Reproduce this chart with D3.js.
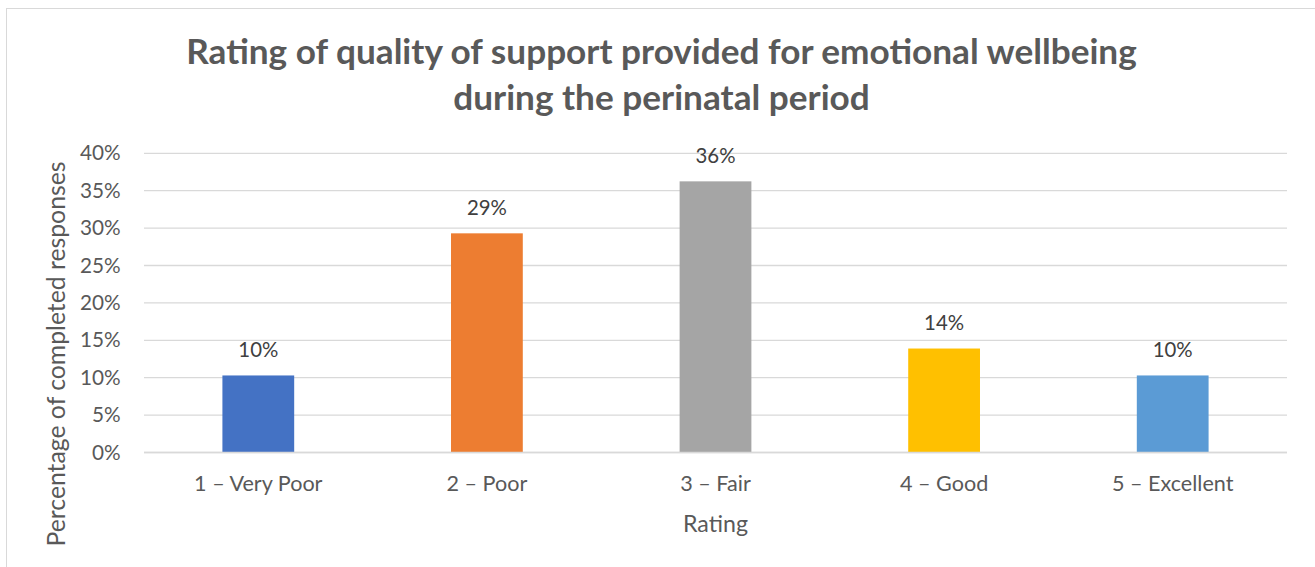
<!DOCTYPE html>
<html><head><meta charset="utf-8">
<script src="https://cdn.jsdelivr.net/npm/d3@7/dist/d3.min.js"></script>
<style>body{margin:0;background:#fff;} svg{display:block;}</style>
</head><body>
<svg id="c" width="1315" height="567"></svg>
<script>
const categories = ["1 – Very Poor", "2 – Poor", "3 – Fair", "4 – Good", "5 – Excellent"];
const values = [0.103, 0.293, 0.3625, 0.139, 0.103];
const labels = ["10%", "29%", "36%", "14%", "10%"];
const colors = ["#4472C4", "#ED7D31", "#A5A5A5", "#FFC000", "#5B9BD5"];
const yTicks = [0, 0.05, 0.10, 0.15, 0.20, 0.25, 0.30, 0.35, 0.40];
const titleLines = ["Rating of quality of support provided for emotional wellbeing", "during the perinatal period"];
const xTitle = "Rating";
const yTitle = "Percentage of completed responses";

(function () {
const svg = d3.select("#c");
const font = "Lato, 'Open Sans', sans-serif";
const pL = 144, pR = 1287, pT = 153.3, pB = 452.5;

function fit(str, weight, target) {
  const t = svg.append("text").attr("font-family", font).attr("font-weight", weight)
    .attr("font-size", 20).text(str);
  const w = t.node().getComputedTextLength();
  t.remove();
  return 20 * target / w;
}

svg.append("rect").attr("x", 6.5).attr("y", 8.5).attr("width", 1330).attr("height", 600)
  .attr("fill", "#fff").attr("stroke", "#d9d9d9").attr("stroke-width", 1);

const x = d3.scaleBand().domain(categories).range([pL, pR]).paddingInner(0.686).paddingOuter(0.343);
const y = d3.scaleLinear().domain([0, 0.40]).range([pB, pT]);

svg.append("g").selectAll("line").data(yTicks).join("line")
  .attr("x1", pL).attr("x2", pR)
  .attr("y1", d => y(d)).attr("y2", d => y(d))
  .attr("stroke", "#d9d9d9").attr("stroke-width", 1.3);

const tickFs = fit("40%", "normal", 40.7);
const yAxis = d3.axisLeft(y).tickValues(yTicks).tickFormat(d3.format(".0%")).tickSize(0).tickPadding(23.3);
const gy = svg.append("g").attr("transform", `translate(${pL},0)`).call(yAxis);
gy.select(".domain").remove();
gy.selectAll("text").attr("font-family", font).attr("font-size", tickFs).attr("fill", "#595959");

svg.append("g").selectAll("rect").data(values).join("rect")
  .attr("x", (d, i) => x(categories[i])).attr("width", x.bandwidth())
  .attr("y", d => y(d)).attr("height", d => y(0) - y(d))
  .attr("fill", (d, i) => colors[i]);

const lblFs = fit("10%", "normal", 40);
svg.append("g").selectAll("text").data(values).join("text")
  .attr("x", (d, i) => x(categories[i]) + x.bandwidth() / 2)
  .attr("y", d => y(d) - 18.3)
  .attr("text-anchor", "middle").attr("font-family", font).attr("font-size", lblFs)
  .attr("fill", "#404040").text((d, i) => labels[i]);

const xFs = fit(categories[0], "normal", 128.4);
const gx = svg.append("g").attr("transform", `translate(0,${pB})`);
gx.append("line").attr("x1", pL).attr("x2", pR).attr("y1", 0).attr("y2", 0)
  .attr("stroke", "#d9d9d9").attr("stroke-width", 1.3);
gx.selectAll("text.xl").data(categories).join("text").attr("class", "xl")
  .attr("x", d => x(d) + x.bandwidth() / 2).attr("y", 491 - pB)
  .attr("text-anchor", "middle").attr("font-family", font).attr("font-size", xFs)
  .attr("fill", "#595959").text(d => d);

const xtFs = fit(xTitle, "normal", 65);
svg.append("text").attr("x", 715.5).attr("y", 531.5).attr("text-anchor", "middle")
  .attr("font-family", font).attr("font-size", xtFs).attr("fill", "#595959").text(xTitle);
const ytFs = fit(yTitle, "normal", 385);
svg.append("text").attr("transform", "translate(65,354) rotate(-90)").attr("text-anchor", "middle")
  .attr("font-family", font).attr("font-size", ytFs).attr("fill", "#595959").text(yTitle);

const tFs = fit(titleLines[0], "bold", 951);
svg.append("text").attr("x", 661.5).attr("y", 64).attr("text-anchor", "middle")
  .attr("font-family", font).attr("font-weight", "bold").attr("font-size", tFs).attr("fill", "#595959").text(titleLines[0]);
svg.append("text").attr("x", 661.5).attr("y", 110).attr("text-anchor", "middle")
  .attr("font-family", font).attr("font-weight", "bold").attr("font-size", tFs).attr("fill", "#595959").text(titleLines[1]);
})();
</script>
</body></html>
